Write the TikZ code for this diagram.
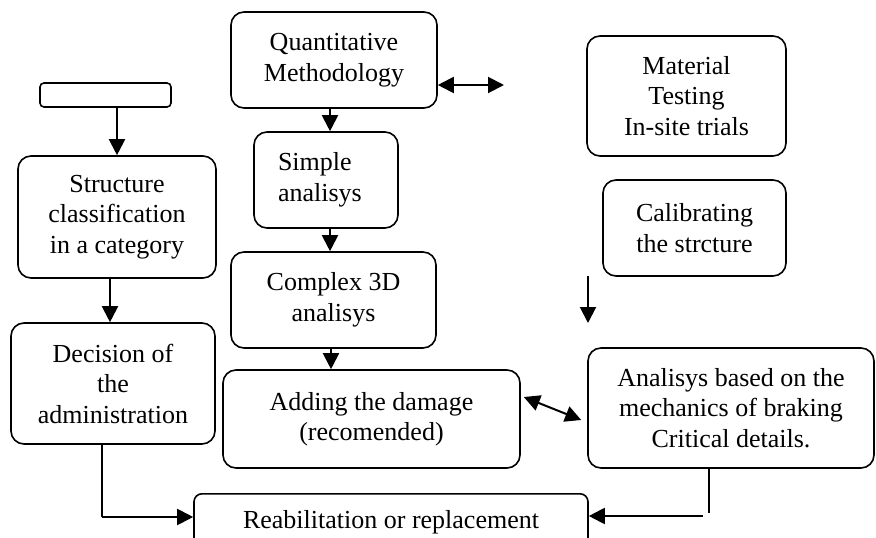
\documentclass[tikz,border=0pt]{standalone}
\usepackage{fontspec}
\setmainfont{Liberation Serif}
\usetikzlibrary{arrows.meta,calc}
\begin{document}
\begin{tikzpicture}[x=1pt,y=-1pt,
  box/.style={draw,line width=1.6pt,rounded corners=13pt,inner sep=0pt,align=center,
    font=\fontsize{26}{30.5}\selectfont},
  arr/.style={line width=2pt,-{Triangle[length=16pt,width=16pt]}},
  darr/.style={line width=2pt,{Triangle[length=16pt,width=16pt]}-{Triangle[length=16pt,width=16pt]}},
  thinline/.style={line width=1.1pt}]
\useasboundingbox (0,0) rectangle (876,538);
\clip (0,0) rectangle (876,538);

% boxes
\node[box,rounded corners=4pt,minimum width=131pt,minimum height=24pt] (blank) at (105.5,95) {};
\node[box,minimum width=198pt,minimum height=122pt] (struct) at (117,217) {Structure\\classification\\in a category};
\node[box,minimum width=206pt,minimum height=96pt] (quant) at (334,60) {Quantitative\\Methodology};
\node[box,minimum width=144pt,minimum height=96pt,text width=96pt,align=left] (simple) at (326,180) {Simple\\analisys};
\node[box,minimum width=205pt,minimum height=96pt] (complex) at (333.5,300) {Complex 3D\\analisys};
\node[box,minimum width=297pt,minimum height=98pt] (adding) at (371.5,419) {Adding the damage\\(recomended)};
\node[box,minimum width=204pt,minimum height=121pt] (decision) at (113,383.5) {Decision of\\the\\administration};
\node[box,minimum width=286pt,minimum height=120pt] (anal) at (731,408) {Analisys based on the\\mechanics of braking\\Critical details.};
\node[box,minimum width=199pt,minimum height=120pt] (material) at (686.5,96) {Material\\Testing\\In-site trials};
\node[box,minimum width=183pt,minimum height=96pt] (calib) at (694.5,228) {Calibrating\\the strcture};
\node[box,rounded corners=8pt,anchor=north,minimum width=394pt,inner ysep=17pt] (reab) at (391,493) {Reabilitation or replacement};

% free coordinates
\coordinate (qa) at (504,85);
\coordinate (c1) at (588,276);
\coordinate (c2) at (588,323);
\coordinate (d1) at (102,517);
\coordinate (e1) at (709,516);
\coordinate (sx) at (110,0);

% connectors
\draw[arr] (blank.south -| struct.north) -- (struct.north);
\draw[arr] (struct.south -| sx) -- (decision.north -| sx);
\draw[arr] ([xshift=-4pt]quant.south) -- ([xshift=4pt]simple.north);
\draw[arr] ([xshift=4pt]simple.south) -- ([xshift=-3.5pt]complex.north);
\draw[arr] ([xshift=-2.5pt]complex.south) -- ([xshift=-40.5pt]adding.north);
\draw[darr] (quant.east |- qa) -- (qa);
\draw[arr] (c1) -- (c2);
\draw[darr] ([shift={(3,-22)}]adding.east) -- ([shift={(-6,12)}]anal.west);
\draw[thinline] (decision.south -| d1) -- (d1);
\draw[arr] (d1) -- (reab.west |- d1);
\draw[thinline] (anal.south -| e1) -- ([yshift=3pt]e1);
\draw[arr] ([xshift=-6pt]e1) -- (reab.east |- e1);
\end{tikzpicture}
\end{document}
